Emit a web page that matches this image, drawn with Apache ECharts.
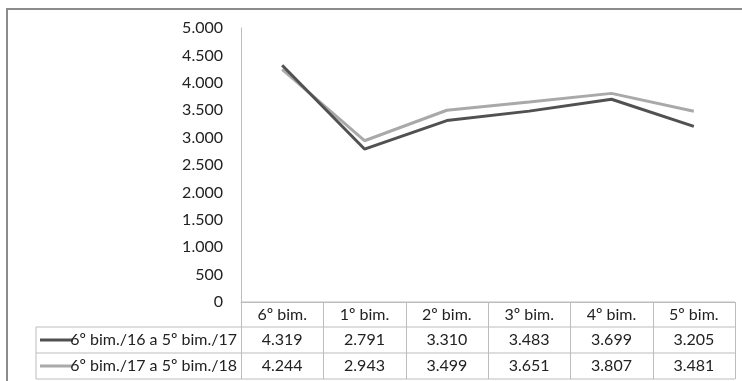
<!DOCTYPE html>
<html><head><meta charset="utf-8">
<script src="https://cdn.jsdelivr.net/npm/echarts@6/dist/echarts.min.js"></script>
<style>html,body{margin:0;padding:0;background:#fff}#c{width:742px;height:381px}</style>
</head><body><div id="c"></div>
<script>
var categories = ['6º bim.', '1º bim.', '2º bim.', '3º bim.', '4º bim.', '5º bim.'];
var seriesNames = ['6º bim./16 a 5º bim./17', '6º bim./17 a 5º bim./18'];
var series1 = [4319, 2791, 3310, 3483, 3699, 3205];
var series2 = [4244, 2943, 3499, 3651, 3807, 3481];
var seriesColors = ['#515151', '#a9a9a9'];

var FONT = 'Lato';
var FS = 16;
var gridL = 241, gridT = 28, gridW = 494, gridH = 274;
var colW = gridW / categories.length;
var rowTops = [302, 327, 353, 379];
var borderC = '#bdbdbd';
function fmt(v){ return v.toLocaleString('de-DE'); }

var chart = echarts.init(document.getElementById('c'));
var graphics = [];
graphics.push({type:'rect', shape:{x:7,y:9,width:745,height:380}, style:{fill:null, stroke:'#8c8c8c', lineWidth:2}, silent:true});
graphics.push({type:'line', shape:{x1:gridL,y1:rowTops[0],x2:gridL+gridW,y2:rowTops[0]}, style:{stroke:borderC,lineWidth:1}});
for (var r=1;r<rowTops.length;r++){
  graphics.push({type:'line', shape:{x1:36,y1:rowTops[r],x2:gridL+gridW,y2:rowTops[r]}, style:{stroke:borderC,lineWidth:1}});
}
graphics.push({type:'line', shape:{x1:36,y1:rowTops[1],x2:36,y2:rowTops[3]}, style:{stroke:borderC,lineWidth:1}});
for (var k=0;k<=categories.length;k++){
  var x = Math.round(gridL + k*colW)+0.5;
  graphics.push({type:'line', shape:{x1:x,y1:rowTops[0],x2:x,y2:rowTops[3]}, style:{stroke:borderC,lineWidth:1}});
}
var rows = [series1, series2];
rows.forEach(function(vals, ri){
  var cy = (rowTops[ri+1]+rowTops[ri+2])/2;
  graphics.push({type:'line', shape:{x1:40,y1:cy,x2:73,y2:cy}, style:{stroke:seriesColors[ri],lineWidth:3}});
  graphics.push({type:'text', x:237, y:cy, style:{text:seriesNames[ri], font:FS+'px '+FONT, fill:'#222', align:'right', verticalAlign:'middle'}});
  vals.forEach(function(v,i){
    graphics.push({type:'text', x:gridL+(i+0.5)*colW, y:cy, style:{text:fmt(v), font:FS+'px '+FONT, fill:'#222', align:'center', verticalAlign:'middle'}});
  });
});

chart.setOption({
  animation:false,
  grid:{left:gridL, top:gridT, width:gridW, height:gridH, containLabel:false},
  xAxis:{type:'category', data:categories, boundaryGap:true,
    axisLine:{show:true, lineStyle:{color:borderC}}, axisTick:{show:false},
    axisLabel:{fontFamily:FONT, fontSize:FS, color:'#222', margin:5}},
  yAxis:{type:'value', min:0, max:5000, interval:500,
    axisLine:{show:true, lineStyle:{color:borderC}}, axisTick:{show:false}, splitLine:{show:false},
    axisLabel:{fontFamily:FONT, fontSize:FS, color:'#222', margin:18, formatter:function(v){return fmt(v);}}},
  series:[
    {type:'line', name:seriesNames[0], data:series1, symbol:'none', lineStyle:{color:seriesColors[0], width:3}, z:3},
    {type:'line', name:seriesNames[1], data:series2, symbol:'none', lineStyle:{color:seriesColors[1], width:3}, z:2}
  ],
  graphic:graphics
});
</script></body></html>
